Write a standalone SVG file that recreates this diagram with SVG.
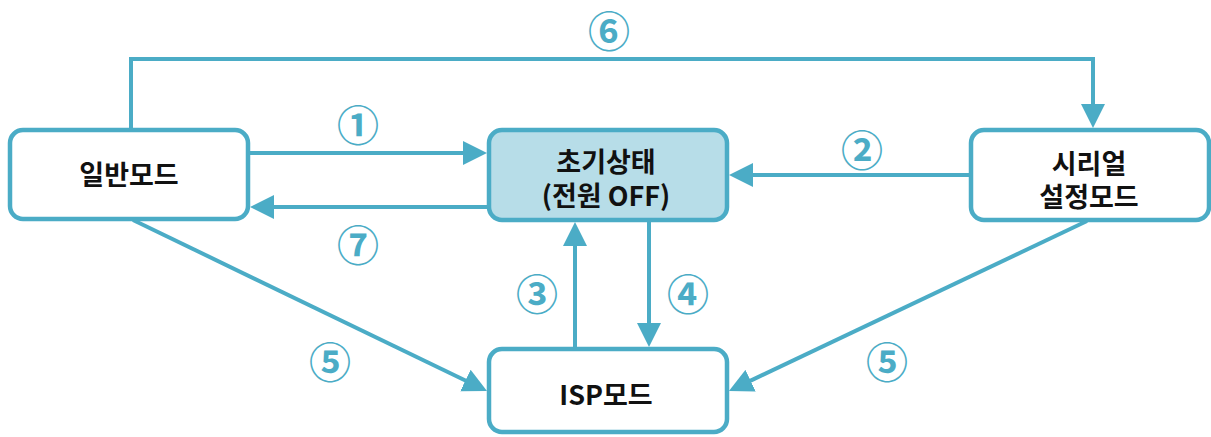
<svg xmlns="http://www.w3.org/2000/svg" width="1211" height="437" viewBox="0 0 1211 437">
<style>
.box{fill:#ffffff;stroke:#4bacc6;stroke-width:4.5}
.box.init{fill:#b7dde8}
.lbl{font-family:"Noto Sans CJK KR","Noto Sans",sans-serif;font-size:27px;font-weight:700;fill:#111;text-anchor:middle}
.num{font-family:"Noto Sans CJK KR","DejaVu Sans",sans-serif;font-size:42px;font-weight:700;fill:#4bacc6;text-anchor:middle;dominant-baseline:central}
.con{fill:none;stroke:#4bacc6;stroke-width:4;marker-end:url(#ah)}
</style>
<defs>
<marker id="ah" markerUnits="userSpaceOnUse" markerWidth="24" markerHeight="24" refX="4" refY="12" orient="auto">
<path d="M0,0 L24,12 L0,24 z" fill="#4bacc6"/>
</marker>
</defs>
<rect width="1211" height="437" fill="#ffffff"/>
<g id="connectors">
<path class="con" d="M131,130 V59 H1093 V108"/>
<path class="con" d="M248,153 H467"/>
<path class="con" d="M489,207 H270"/>
<path class="con" d="M971,175 H749"/>
<path class="con" d="M575,349 V242"/>
<path class="con" d="M649,220 V327"/>
<path class="con" d="M133,220 L469,382.3"/>
<path class="con" d="M1087,221 L747,382.4"/>
<text class="num" x="609" y="28">⑥</text>
<text class="num" x="358" y="122">①</text>
<text class="num" x="862" y="147">②</text>
<text class="num" x="358" y="242">⑦</text>
<text class="num" x="537" y="291">③</text>
<text class="num" x="688" y="291">④</text>
<text class="num" x="330" y="359">⑤</text>
<text class="num" x="887" y="359">⑤</text>
</g>
<g id="node-normal">
<rect class="box" x="10" y="130" width="238" height="89" rx="13"/>
<text class="lbl" x="129" y="185">일반모드</text>
</g>
<g id="node-init">
<rect class="box init" x="489" y="130" width="238" height="90" rx="13"/>
<text class="lbl" x="606" y="172">초기상태</text>
<text class="lbl" x="606" y="206">(전원 OFF)</text>
</g>
<g id="node-serial">
<rect class="box" x="971" y="130" width="238" height="90" rx="13"/>
<text class="lbl" x="1089" y="174">시리얼</text>
<text class="lbl" x="1089" y="207">설정모드</text>
</g>
<g id="node-isp">
<rect class="box" x="489" y="349" width="238" height="83" rx="13"/>
<text class="lbl" x="606" y="405">ISP모드</text>
</g>
</svg>
